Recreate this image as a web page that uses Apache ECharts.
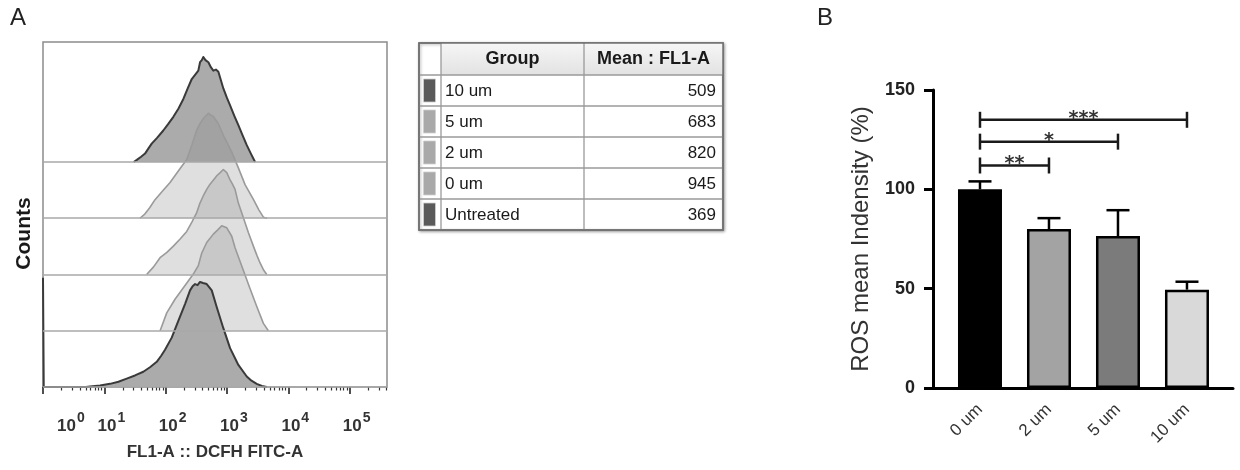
<!DOCTYPE html>
<html><head><meta charset="utf-8">
<script src="https://cdn.jsdelivr.net/npm/echarts@6/dist/echarts.min.js"></script>
<style>html,body{margin:0;padding:0;background:#fff}#c{width:1240px;height:470px}</style>
</head><body><div id="c"></div>
<script>
// ================= DATA =================
// Panel A: flow-cytometry histograms, x = log10(FL1-A), y = % of mode
const histGroups = ['10 um', '5 um', '2 um', '0 um', 'Untreated'];
const histMeans = [509, 683, 820, 945, 369];
const hist10um = [[1.48,0],[1.53,2],[1.60,5],[1.664,8],[1.72,13],[1.773,17.5],[1.86,23],[1.962,30],[2.04,36],[2.126,43],[2.21,51],[2.289,60],[2.36,70],[2.426,79],[2.48,83],[2.533,87],[2.561,95],[2.59,97],[2.615,100],[2.65,97],[2.697,95],[2.74,90],[2.778,87],[2.82,88],[2.86,86],[2.90,78],[2.941,70],[3.0,61],[3.051,54],[3.12,44],[3.186,35],[3.25,26],[3.323,16],[3.39,8],[3.459,0]];
const hist5um = [[1.58,0],[1.66,4],[1.74,10],[1.827,17.7],[1.95,26],[2.072,34],[2.207,45],[2.344,56],[2.43,70],[2.507,84],[2.56,90],[2.615,95],[2.697,100],[2.74,98],[2.778,97],[2.86,90],[2.941,79],[3.01,71],[3.078,63],[3.186,48],[3.295,32],[3.431,18],[3.52,8],[3.594,1],[3.654,0]];
const hist2um = [[1.69,0],[1.80,7],[1.909,16],[2.02,21],[2.126,27],[2.24,34],[2.344,41],[2.43,50],[2.507,59],[2.56,68],[2.615,75],[2.67,81],[2.724,86],[2.78,90],[2.834,94],[2.89,97],[2.941,100],[2.997,97],[3.051,90],[3.09,86],[3.132,81],[3.186,68],[3.268,54],[3.349,40],[3.431,27],[3.49,18],[3.54,11],[3.60,4],[3.649,0]];
const hist0um = [[1.91,0],[2.018,17],[2.153,30],[2.316,43],[2.452,54],[2.533,62],[2.589,74],[2.670,84],[2.778,92],[2.85,96],[2.915,100],[2.997,98],[3.078,90],[3.132,79],[3.214,66],[3.295,53],[3.377,40],[3.486,23],[3.594,7],[3.675,0]];
const histUntreated = [[0,104],[0.012,0],[0.70,0],[0.767,0.5],[0.93,1.5],[1.093,3],[1.23,5],[1.365,8],[1.50,11],[1.636,14.5],[1.75,19],[1.855,24],[1.93,30],[1.990,35.5],[2.099,47],[2.207,63],[2.316,79],[2.398,92],[2.44,96],[2.480,98],[2.52,97],[2.561,100],[2.61,99],[2.670,98],[2.752,92],[2.834,76],[2.941,56],[3.051,37],[3.186,21],[3.323,10],[3.40,6],[3.486,3],[3.57,1],[3.649,0]];
const decadeExponents = [0, 1, 2, 3, 4, 5];

// Panel B: ROS mean intensity
const barCategories = ['0 um', '2 um', '5 um', '10 um'];
const barMeans = [100, 80, 76.5, 49.5];
const barErrors = [4, 5.5, 13, 4];
const sigFrom = [0, 0, 0];
const sigTo = [1, 2, 3];
const sigLevel = [112, 124, 135];
const sigLabels = ['**', '*', '***'];

// ================= STYLE =================
const FONT = 'Liberation Sans, Arial, Helvetica, sans-serif';
const histLine = ['#3a3a3a', '#9a9a9a', '#9a9a9a', '#9a9a9a', '#3a3a3a'];
const histLineW = [2, 1.6, 1.6, 1.6, 2];
const histFill = ['#ababab', 'rgba(140,140,140,0.28)', 'rgba(140,140,140,0.28)', 'rgba(140,140,140,0.28)', '#ababab'];
const swatchColors = ['#5a5a5a', '#a9a9a9', '#a9a9a9', '#a9a9a9', '#5a5a5a'];
const barColors = ['#000000', '#a3a3a3', '#7b7b7b', '#d9d9d9'];
const PEAK_ROWS = 1.867;   // height of a 100% peak, in row units
const ROW_MAX = 6.133;     // grid height in row units

const histData = [hist10um, hist5um, hist2um, hist0um, histUntreated];
const histSeries = histData.map((h, i) => {
  const offset = histData.length - 1 - i;
  return {
    type: 'line', name: histGroups[i], xAxisIndex: 0, yAxisIndex: 0,
    data: h.map(p => [p[0], offset + p[1] / 100 * PEAK_ROWS]),
    showSymbol: false, symbol: 'none', clip: false,
    lineStyle: { color: histLine[i], width: histLineW[i], join: 'round' },
    areaStyle: { color: histFill[i], origin: offset, opacity: 1 },
    markLine: {
      silent: true, symbol: 'none', animation: false,
      label: { show: false },
      lineStyle: { color: '#a8a8a8', width: 1.5, type: 'solid' },
      data: [{ yAxis: offset }]
    }
  };
});

// minor log ticks
const minorTicks = [];
for (let d = 0; d <= 5; d++) for (let k = 2; k <= 9; k++) {
  const v = Math.log10(k * Math.pow(10, d));
  if (v < 5.61) minorTicks.push(v);
}

// ================= TABLE (graphic) =================
const T = { x: 419, y: 43, cw: [22, 143, 139], hh: 32, rh: 31 };
const tW = T.cw[0] + T.cw[1] + T.cw[2];
const tH = T.hh + T.rh * histGroups.length;
const tbl = [];
tbl.push({ type: 'rect', shape: { x: T.x, y: T.y, width: tW, height: tH },
  style: { fill: '#fff', stroke: '#707070', lineWidth: 1.5, shadowBlur: 3, shadowOffsetX: 1, shadowOffsetY: 1, shadowColor: 'rgba(0,0,0,0.35)' } });
tbl.push({ type: 'rect', shape: { x: T.x + T.cw[0], y: T.y, width: T.cw[1] + T.cw[2], height: T.hh },
  style: { fill: new echarts.graphic.LinearGradient(0, 0, 0, 1, [{ offset: 0, color: '#f6f6f6' }, { offset: 1, color: '#e2e2e2' }]) } });
for (let r = 1; r <= histGroups.length; r++) {
  const yy = T.y + T.hh + T.rh * (r - 1);
  tbl.push({ type: 'line', shape: { x1: T.x, y1: yy, x2: T.x + tW, y2: yy }, style: { stroke: '#9a9a9a', lineWidth: 1.3 } });
}
[T.x + T.cw[0], T.x + T.cw[0] + T.cw[1]].forEach(xx => {
  tbl.push({ type: 'line', shape: { x1: xx, y1: T.y, x2: xx, y2: T.y + tH }, style: { stroke: '#9a9a9a', lineWidth: 1.3 } });
});
tbl.push({ type: 'rect', shape: { x: T.x, y: T.y, width: tW, height: tH }, style: { fill: 'none', stroke: '#707070', lineWidth: 1.5 } });
tbl.push({ type: 'text', x: T.x + T.cw[0] + T.cw[1] / 2, y: T.y + T.hh / 2,
  style: { text: 'Group', font: 'bold 18px ' + FONT, fill: '#1a1a1a', align: 'center', verticalAlign: 'middle' } });
tbl.push({ type: 'text', x: T.x + T.cw[0] + T.cw[1] + T.cw[2] / 2, y: T.y + T.hh / 2,
  style: { text: 'Mean : FL1-A', font: 'bold 18px ' + FONT, fill: '#1a1a1a', align: 'center', verticalAlign: 'middle' } });
histGroups.forEach((g, i) => {
  const top = T.y + T.hh + T.rh * i;
  tbl.push({ type: 'rect', shape: { x: T.x + 4.5, y: top + 4, width: 12, height: T.rh - 8 },
    style: { fill: swatchColors[i], stroke: '#cfcfcf', lineWidth: 0.8 } });
  tbl.push({ type: 'text', x: T.x + T.cw[0] + 4, y: top + T.rh / 2 + 1,
    style: { text: g, font: '17px ' + FONT, fill: '#1a1a1a', align: 'left', verticalAlign: 'middle' } });
  tbl.push({ type: 'text', x: T.x + tW - 7, y: top + T.rh / 2 + 1,
    style: { text: String(histMeans[i]), font: '17px ' + FONT, fill: '#1a1a1a', align: 'right', verticalAlign: 'middle' } });
});

// ================= CHART =================
const chart = echarts.init(document.getElementById('c'), null, { renderer: 'canvas' });
const option = {
  animation: false,
  backgroundColor: '#fff',
  textStyle: { fontFamily: FONT },
  grid: [
    { left: 43, top: 42, width: 344, height: 345, show: true, borderColor: '#8c8c8c', borderWidth: 1.5, backgroundColor: 'transparent' },
    { left: 933, top: 90, width: 300, height: 298 }
  ],
  xAxis: [
    { gridIndex: 0, type: 'value', min: 0, max: 5.61, position: 'bottom',
      name: 'FL1-A :: DCFH FITC-A', nameLocation: 'middle', nameGap: 57,
      nameTextStyle: { fontSize: 17, fontWeight: 'bold', color: '#333' },
      axisLine: { show: false }, splitLine: { show: false },
      axisTick: { show: true, customValues: decadeExponents, length: 7, lineStyle: { color: '#222', width: 1.6 } },
      axisLabel: { show: true, customValues: decadeExponents, margin: 24, alignMinLabel: 'left',
        padding: [0, 0, 0, 14],
        formatter: v => '{b|10}{s|' + v + '}',
        rich: { b: { fontSize: 17, fontWeight: 'bold', color: '#333', fontFamily: FONT },
                s: { fontSize: 14, fontWeight: 'bold', color: '#333', fontFamily: FONT, padding: [0, 0, 17, 1] } } } },
    { gridIndex: 0, type: 'value', min: 0, max: 5.61, position: 'bottom', offset: 0,
      axisLine: { show: false }, splitLine: { show: false }, axisLabel: { show: false },
      axisTick: { show: true, customValues: minorTicks, length: 3.5, lineStyle: { color: '#333', width: 1.2 } } },
    { gridIndex: 1, type: 'value', min: -0.681, max: 3.667,
      axisLine: { show: true, onZero: false, lineStyle: { color: '#000', width: 3 } },
      axisTick: { show: false }, splitLine: { show: false },
      axisLabel: { show: true, customValues: [0, 1, 2, 3], rotate: 45, margin: 19,
        fontSize: 17, color: '#333', formatter: v => barCategories[Math.round(v)] } }
  ],
  yAxis: [
    { gridIndex: 0, type: 'value', min: 0, max: ROW_MAX,
      name: 'Counts', nameLocation: 'middle', nameRotate: 90, nameGap: 8,
      nameTextStyle: { fontSize: 21, fontWeight: 'bold', color: '#1a1a1a', padding: [0, 38, 0, 0] },
      axisLine: { show: false }, axisTick: { show: false }, axisLabel: { show: false }, splitLine: { show: false } },
    { gridIndex: 1, type: 'value', min: 0, max: 150, interval: 50,
      name: 'ROS mean Indensity (%)', nameLocation: 'middle', nameRotate: 90, nameGap: 60,
      nameTextStyle: { fontSize: 24, color: '#333' },
      axisLine: { show: true, onZero: false, lineStyle: { color: '#000', width: 3 } },
      axisTick: { show: true, length: 9, lineStyle: { color: '#000', width: 3 } },
      axisLabel: { fontSize: 18, fontWeight: 'bold', color: '#222', margin: 18 },
      splitLine: { show: false } }
  ],
  graphic: [
    { type: 'text', left: 10, top: 6, style: { text: 'A', font: '24px ' + FONT, fill: '#222' } },
    { type: 'text', left: 817, top: 6, style: { text: 'B', font: '24px ' + FONT, fill: '#222' } },
    { type: 'group', children: tbl }
  ],
  series: histSeries.concat([
    { type: 'bar', xAxisIndex: 2, yAxisIndex: 1, barWidth: 44,
      data: barMeans.map((v, i) => ({ value: [i, v], itemStyle: { color: barColors[i] } })),
      itemStyle: { borderColor: '#000', borderWidth: 2.5 } },
    { type: 'custom', xAxisIndex: 2, yAxisIndex: 1, z: 3,
      data: barMeans.map((v, i) => [i, v, barErrors[i]]),
      renderItem: (params, api) => {
        const x = api.value(0), m = api.value(1), e = api.value(2);
        const p0 = api.coord([x, m]), p1 = api.coord([x, m + e]);
        const hw = 11.5;
        return { type: 'group', children: [
          { type: 'line', shape: { x1: p0[0], y1: p0[1], x2: p1[0], y2: p1[1] }, style: { stroke: '#000', lineWidth: 2.5 } },
          { type: 'line', shape: { x1: p1[0] - hw, y1: p1[1], x2: p1[0] + hw, y2: p1[1] }, style: { stroke: '#000', lineWidth: 2.5 } }
        ] };
      } },
    { type: 'custom', xAxisIndex: 2, yAxisIndex: 1, z: 4,
      data: sigFrom.map((f, i) => [f, sigTo[i], sigLevel[i]]),
      renderItem: (params, api) => {
        const a = api.coord([api.value(0), api.value(2)]);
        const b = api.coord([api.value(1), api.value(2)]);
        const st = { stroke: '#1a1a1a', lineWidth: 2.5 };
        return { type: 'group', children: [
          { type: 'line', shape: { x1: a[0], y1: a[1], x2: b[0], y2: b[1] }, style: st },
          { type: 'line', shape: { x1: a[0], y1: a[1] - 8, x2: a[0], y2: a[1] + 8 }, style: st },
          { type: 'line', shape: { x1: b[0], y1: b[1] - 8, x2: b[0], y2: b[1] + 8 }, style: st },
          { type: 'text', x: (a[0] + b[0]) / 2, y: a[1] - 1,
            style: { text: sigLabels[params.dataIndex], font: 'bold 19px DejaVu Sans', fill: '#333', align: 'center', verticalAlign: 'middle' } }
        ] };
      } }
  ])
};
chart.setOption(option);
</script>
</body></html>
